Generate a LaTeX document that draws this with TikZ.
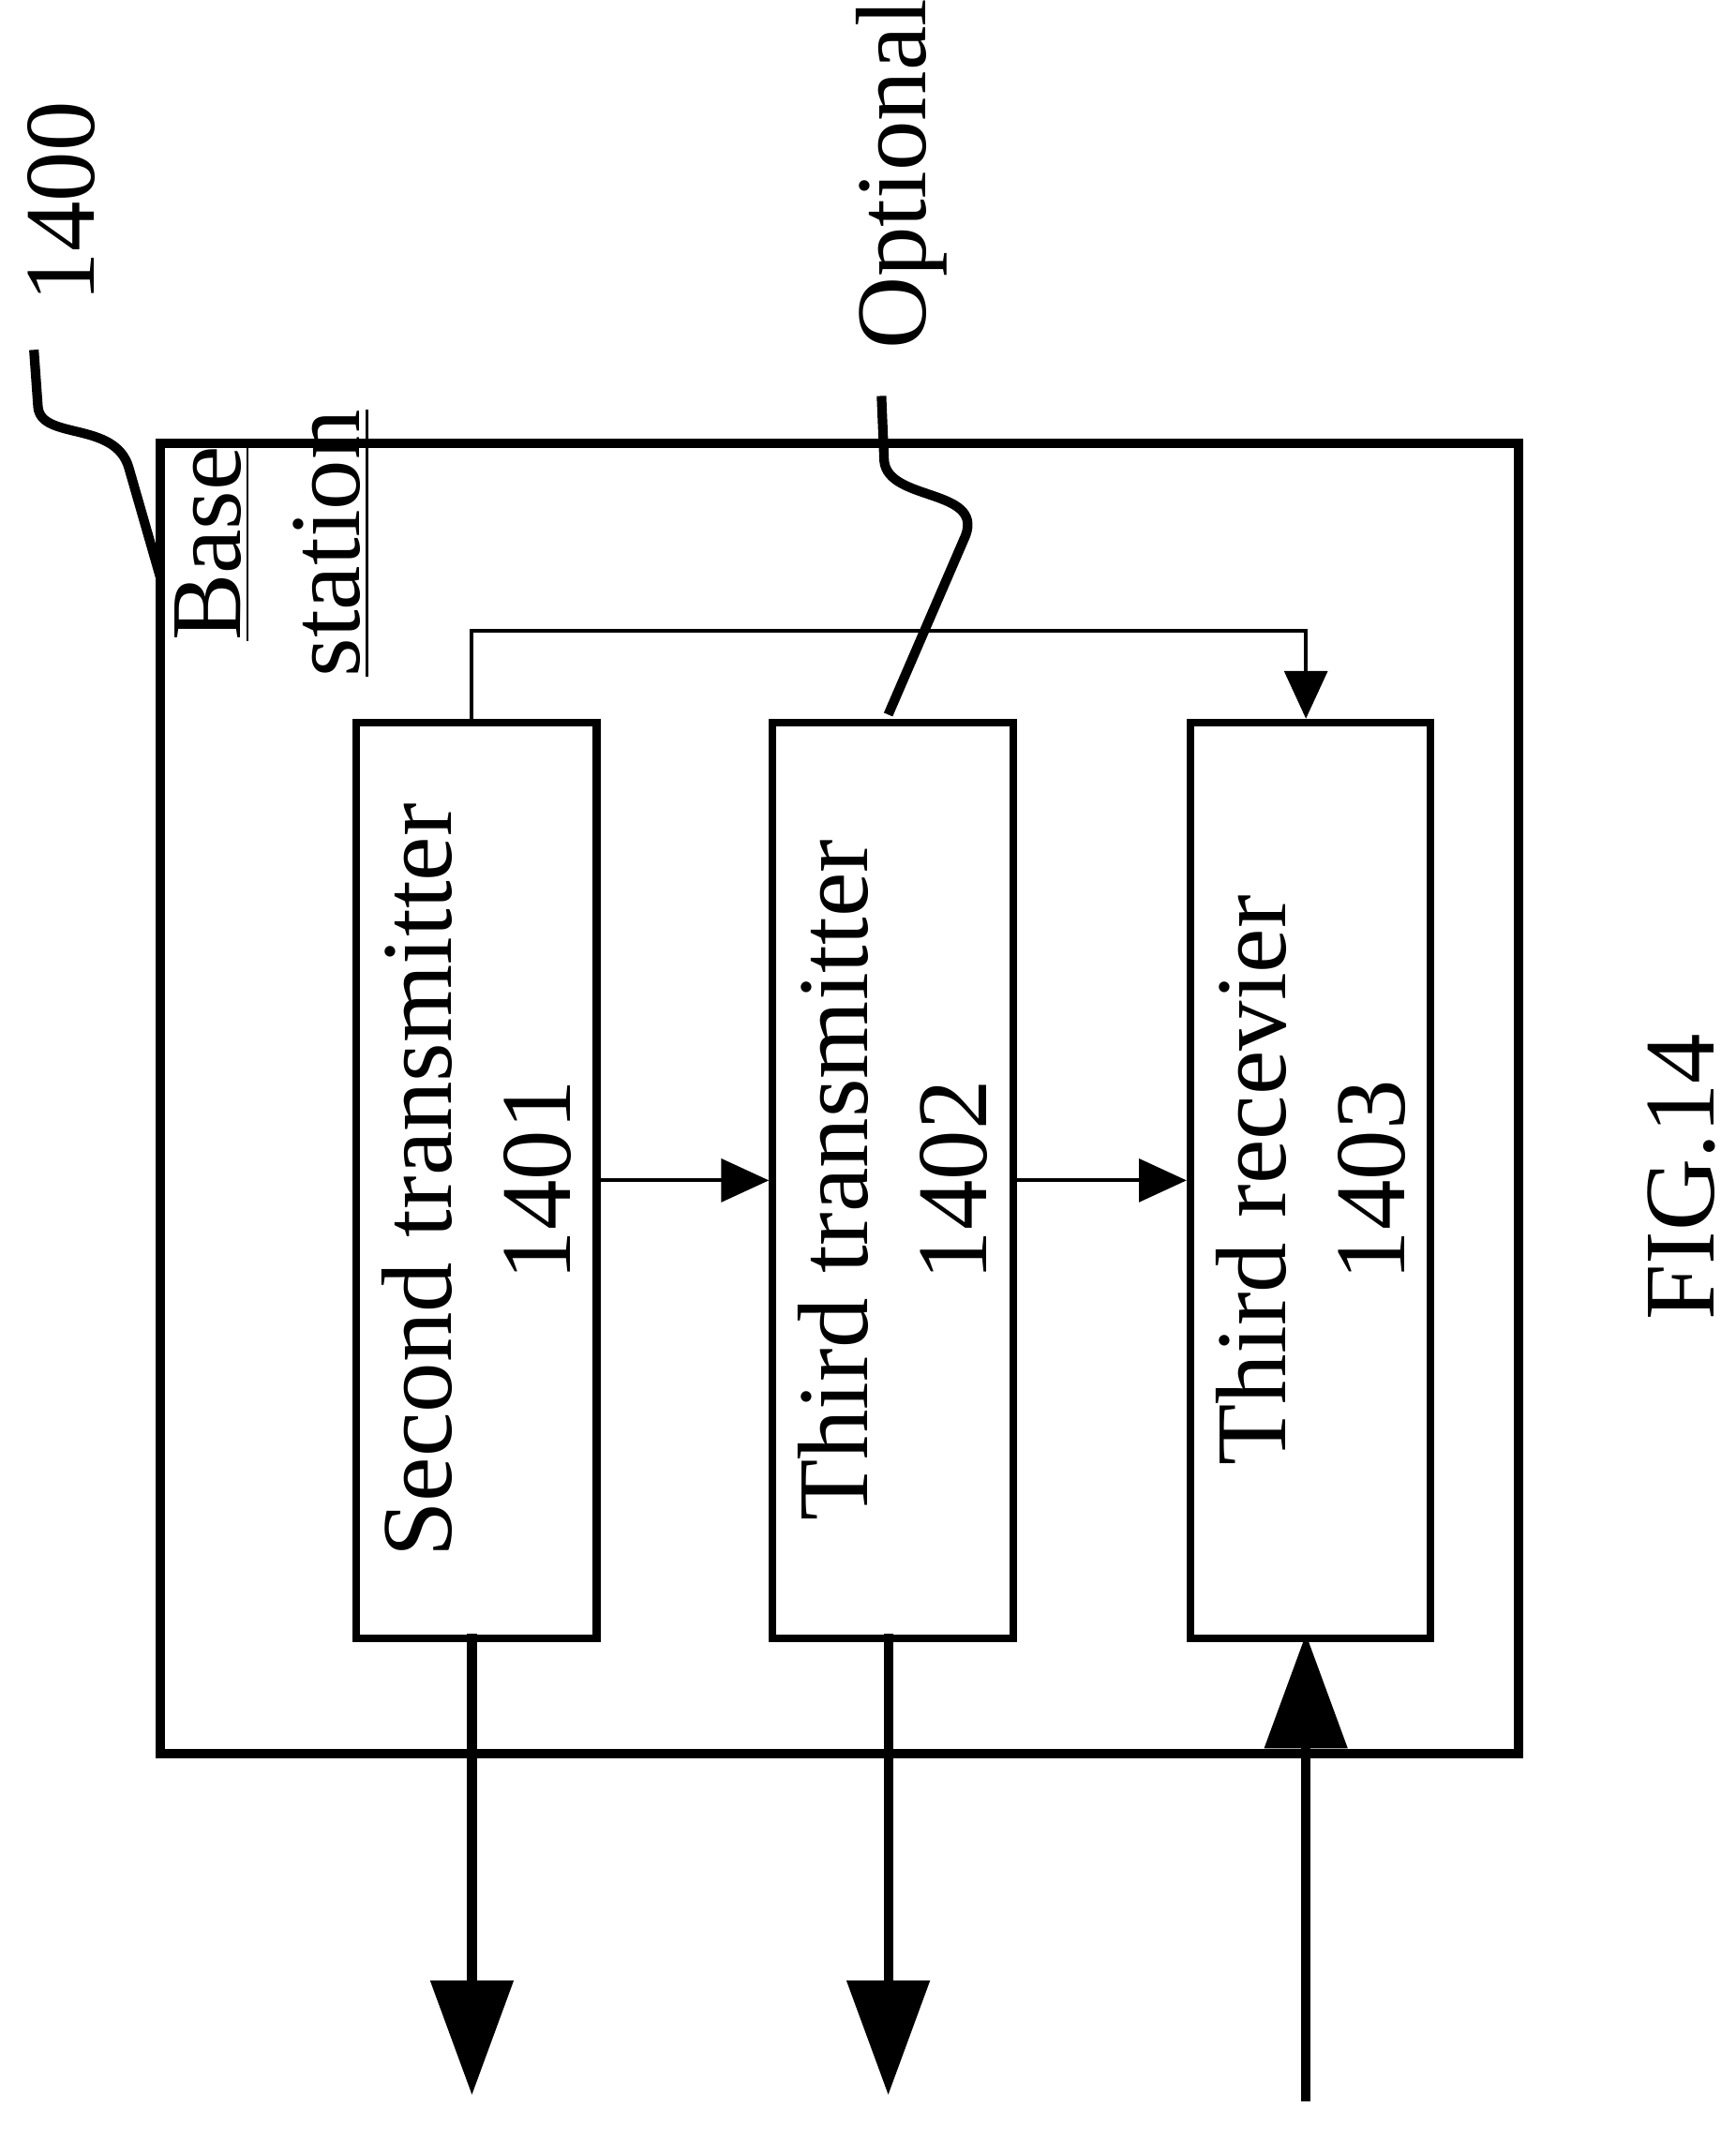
\documentclass[tikz,border=0pt]{standalone}
\usepackage{fontspec}
\setmainfont{Liberation Serif}
\usetikzlibrary{arrows.meta,positioning}
\begin{document}
\begin{tikzpicture}[x=0.01cm,y=-0.01cm,
    block/.style={draw, line width=1.6pt, minimum width=1.77cm, minimum height=6.75cm, anchor=north west, inner sep=0pt},
    lbl/.style={rotate=90, font=\fontsize{21}{25}\selectfont},
    thin arrow/.style={-{Triangle[length=10pt,width=9pt]}, line width=0.8pt},
    thick arrow/.style={-{Triangle[length=24pt,width=17pt]}, line width=2pt}]
    \useasboundingbox (0,0) rectangle (1280,1576);

    % Outer frame
    \draw[line width=2pt] (118,327) rectangle (1120,1293);
    \node[lbl, align=center, anchor=north west, inner sep=0pt] (bs) at (128,500) {\underline{Base}\\\underline{station}};

    % Blocks
    \node[block] (tx2) at (260,530) {};
    \node[block] (tx3) at (567,530) {};
    \node[block] (rx3) at (875,530) {};
    \node[lbl, align=center] at (tx2.center) {Second transmitter\\1401};
    \node[lbl, align=center] at (tx3.center) {Third transmitter\\1402};
    \node[lbl, align=center] at (rx3.center) {Third recevier\\1403};

    % Connections between blocks
    \draw[thin arrow] (tx2.east) -- (tx3.west);
    \draw[thin arrow] (tx3.east) -- (rx3.west);
    \draw[thin arrow] (348,530) -- (348,465) -- (963,465) -- (963,530);

    % External arrows
    \coordinate (out1) at (348,1545);
    \coordinate (out2) at (655,1545);
    \coordinate (in3) at (963,1550);
    \draw[thick arrow] (348,1205) -- (out1);
    \draw[thick arrow] (655,1205) -- (out2);
    \draw[thick arrow] (in3) -- (963,1205);

    % Reference labels
    \node[lbl, anchor=west] (ref) at (45,235) {1400};
    \draw[line width=2pt] (25,258) -- (28,300) .. controls (30,325) and (85,310) .. (95,345) -- (118,425);
    \node[lbl, anchor=west] (opt) at (665,270) {Optional};
    \draw[line width=2pt] (650,292) -- (652,340) .. controls (655,370) and (725,360) .. (712,395) -- (655,527);

    \node[lbl] (fig) at (1240,868) {FIG.14};
\end{tikzpicture}
\end{document}
